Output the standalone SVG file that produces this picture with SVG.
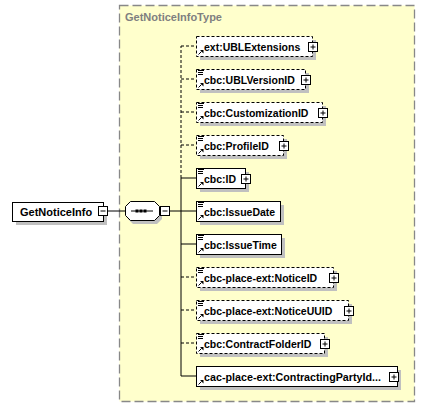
<svg xmlns="http://www.w3.org/2000/svg" width="425" height="408" viewBox="0 0 425 408">
<defs>
<style>
text{font-family:"Liberation Sans",Arial,sans-serif;font-weight:bold;font-size:10.5px;fill:#000}
.tl{fill:#808080;font-size:11px}
.box{fill:#fff;stroke:#000;stroke-width:1}
.opt{stroke-dasharray:3,2}
.sh{fill:#c0c0c0}
.ln{stroke:#000;stroke-width:1;fill:none}
.dl{stroke:#000;stroke-width:1;fill:none;stroke-dasharray:3,2}
.pm{fill:#fff;stroke:#000;stroke-width:1}
</style>
<g id="plus"><rect class="pm" x="0" y="0" width="9" height="9"/><path class="ln" d="M2,4.5H7M4.5,2V7"/></g>
<g id="minus"><rect class="pm" x="0" y="0" width="9" height="9"/><path class="ln" d="M2,4.5H7"/></g>
<g id="lines"><path class="ln" d="M2,1.5H8M2,3.5H7M2,5.5H7"/></g>
<g id="ref"><path class="ln" d="M2.5,18.5L5.5,15.5"/><path d="M4,14H7.5V17.5Z" fill="#000"/></g>
</defs>
<rect x="119.5" y="5.5" width="295" height="396" fill="#ffffcc" stroke="#888" stroke-width="1.3" stroke-dasharray="9,4"/>
<text class="tl" x="125" y="21">GetNoticeInfoType</text>
<g id="connectors">
<path class="ln" d="M108,211H125M169,211H181"/>
<path class="dl" d="M181,178V46"/>
<path class="ln" d="M181,178V376"/>
<path class="dl" d="M181,46H196M181,79H196M181,112H196M181,145H196M181,277H196M181,310H196M181,343H196"/>
<path class="ln" d="M181,178H196M181,211H196M181,244H196M181,376H196"/>
</g>
<g id="GetNoticeInfo">
<rect class="sh" x="16" y="206" width="91" height="19"/>
<rect class="box" x="12.5" y="202.5" width="91" height="19"/>
<text x="20" y="216" style="font-size:11px">GetNoticeInfo</text>
<use href="#minus" x="98.5" y="206.5"/>
</g>
<g id="sequence">
<polygon class="sh" points="133,204 157,204 162,209 162,219 157,224 133,224 128,219 128,209"/>
<polygon class="box" points="130.5,201.5 154.5,201.5 159.5,206.5 159.5,215.5 154.5,220.5 130.5,220.5 125.5,215.5 125.5,206.5"/>
<path class="ln" d="M131,211H153"/>
<rect x="135.5" y="209.5" width="3" height="3" fill="#000"/>
<rect x="139.5" y="209.5" width="3" height="3" fill="#000"/>
<rect x="143.5" y="209.5" width="3" height="3" fill="#000"/>
<use href="#minus" x="160.5" y="206.5"/>
</g>
<g id="ext_UBLExtensions" transform="translate(196,36)">
<rect class="sh" x="4" y="4" width="116" height="20"/>
<rect class="box opt" x="0.5" y="0.5" width="116" height="20"/>
<use href="#ref"/>
<text x="8" y="14.5">ext:UBLExtensions</text>
<use href="#plus" x="112.5" y="6.5"/>
</g>
<g id="cbc_UBLVersionID" transform="translate(196,69)">
<rect class="sh" x="4" y="4" width="109" height="20"/>
<rect class="box opt" x="0.5" y="0.5" width="109" height="20"/>
<use href="#lines"/><use href="#ref"/>
<text x="8" y="14.5">cbc:UBLVersionID</text>
<use href="#plus" x="105.5" y="6.5"/>
</g>
<g id="cbc_CustomizationID" transform="translate(196,102)">
<rect class="sh" x="4" y="4" width="126" height="20"/>
<rect class="box opt" x="0.5" y="0.5" width="126" height="20"/>
<use href="#lines"/><use href="#ref"/>
<text x="8" y="14.5">cbc:CustomizationID</text>
<use href="#plus" x="122.5" y="6.5"/>
</g>
<g id="cbc_ProfileID" transform="translate(196,135)">
<rect class="sh" x="4" y="4" width="87" height="20"/>
<rect class="box opt" x="0.5" y="0.5" width="87" height="20"/>
<use href="#lines"/><use href="#ref"/>
<text x="8" y="14.5">cbc:ProfileID</text>
<use href="#plus" x="83.5" y="6.5"/>
</g>
<g id="cbc_ID" transform="translate(196,168)">
<rect class="sh" x="4" y="4" width="49" height="20"/>
<rect class="box" x="0.5" y="0.5" width="49" height="20"/>
<use href="#lines"/><use href="#ref"/>
<text x="8" y="14.5">cbc:ID</text>
<use href="#plus" x="45.5" y="6.5"/>
</g>
<g id="cbc_IssueDate" transform="translate(196,201)">
<rect class="sh" x="4" y="4" width="84" height="20"/>
<rect class="box" x="0.5" y="0.5" width="84" height="20"/>
<use href="#lines"/><use href="#ref"/>
<text x="8" y="14.5">cbc:IssueDate</text>
</g>
<g id="cbc_IssueTime" transform="translate(196,234)">
<rect class="sh" x="4" y="4" width="85" height="20"/>
<rect class="box" x="0.5" y="0.5" width="85" height="20"/>
<use href="#lines"/><use href="#ref"/>
<text x="8" y="14.5">cbc:IssueTime</text>
</g>
<g id="cbc-place-ext_NoticeID" transform="translate(196,267)">
<rect class="sh" x="4" y="4" width="137" height="20"/>
<rect class="box opt" x="0.5" y="0.5" width="137" height="20"/>
<use href="#lines"/><use href="#ref"/>
<text x="8" y="14.5">cbc-place-ext:NoticeID</text>
<use href="#plus" x="133.5" y="6.5"/>
</g>
<g id="cbc-place-ext_NoticeUUID" transform="translate(196,300)">
<rect class="sh" x="4" y="4" width="152" height="20"/>
<rect class="box opt" x="0.5" y="0.5" width="152" height="20"/>
<use href="#lines"/><use href="#ref"/>
<text x="8" y="14.5">cbc-place-ext:NoticeUUID</text>
<use href="#plus" x="148.5" y="6.5"/>
</g>
<g id="cbc_ContractFolderID" transform="translate(196,333)">
<rect class="sh" x="4" y="4" width="128" height="20"/>
<rect class="box opt" x="0.5" y="0.5" width="128" height="20"/>
<use href="#lines"/><use href="#ref"/>
<text x="8" y="14.5">cbc:ContractFolderID</text>
<use href="#plus" x="124.5" y="6.5"/>
</g>
<g id="cac-place-ext_ContractingPartyId" transform="translate(196,366)">
<rect class="sh" x="4" y="4" width="201" height="20"/>
<rect class="box" x="0.5" y="0.5" width="201" height="20"/>
<use href="#ref"/>
<text x="8" y="14.5" textLength="177" lengthAdjust="spacingAndGlyphs">cac-place-ext:ContractingPartyId...</text>
<use href="#plus" x="193.5" y="6.5"/>
</g>
</svg>
